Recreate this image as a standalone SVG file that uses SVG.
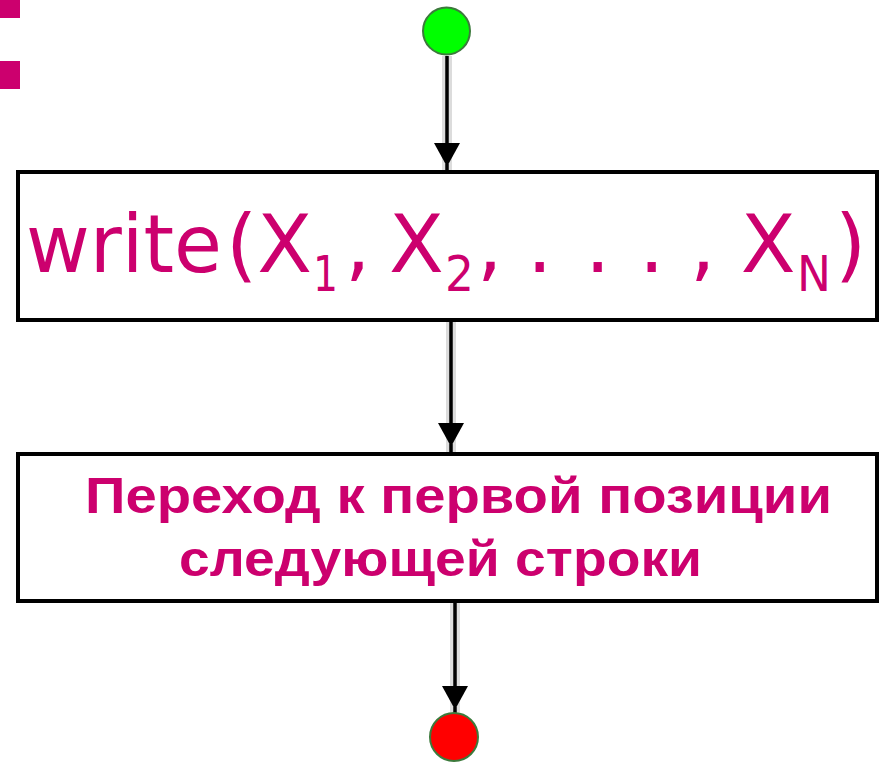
<svg xmlns="http://www.w3.org/2000/svg" width="885" height="762" viewBox="0 0 885 762">
<style>
.box{fill:#fff;stroke:#000;stroke-width:4}
.halo{fill:none;stroke:#dcdcdc;stroke-width:10}
.ln{fill:none;stroke:#000;stroke-width:3.5}
.mg{fill:#cc006e}
.t1{font-family:"DejaVu Sans",Verdana,sans-serif;font-size:80px;fill:#cc006e}
.sub{font-size:50px}
.t2{font-family:"Liberation Sans",Arial,sans-serif;font-weight:bold;font-size:50px;fill:#cc006e}
</style>
<defs>
<path id="ah" d="M-13,0 L13,0 L2,20 L-2,20 Z" fill="#000"/>
</defs>
<rect class="mg" x="0" y="0" width="20" height="18"/>
<rect class="mg" x="0" y="61" width="20" height="28"/>
<g id="connectors">
<line class="halo" x1="447" y1="56" x2="447" y2="170"/>
<line class="ln" x1="447" y1="56" x2="447" y2="172"/>
<use href="#ah" x="447" y="143"/>
<line class="halo" x1="451" y1="322" x2="451" y2="452"/>
<line class="ln" x1="451" y1="320" x2="451" y2="455"/>
<use href="#ah" x="451" y="423"/>
<line class="halo" x1="455" y1="603" x2="455" y2="712"/>
<line class="ln" x1="455" y1="601" x2="455" y2="713"/>
<use href="#ah" x="455" y="686"/>
</g>
<g id="start">
<circle cx="446.5" cy="31" r="23.5" fill="#00ff00" stroke="#3c7a3c" stroke-width="2"/>
</g>
<g id="write">
<rect class="box" x="18" y="172" width="859" height="148"/>
<text class="t1" y="272"><tspan x="26" y="272" textLength="196" lengthAdjust="spacingAndGlyphs">write</tspan><tspan x="226" y="272">(X</tspan><tspan class="sub" x="313" y="291" textLength="25" lengthAdjust="spacingAndGlyphs">1</tspan><tspan x="345" y="272">,</tspan><tspan x="389" y="272">X</tspan><tspan class="sub" x="445" y="291" textLength="29" lengthAdjust="spacingAndGlyphs">2</tspan><tspan x="477" y="272">,</tspan><tspan x="527" y="272">.</tspan><tspan x="585" y="272">.</tspan><tspan x="639" y="272">.</tspan><tspan x="690" y="272">, X</tspan><tspan class="sub" x="797" y="291" textLength="34" lengthAdjust="spacingAndGlyphs">N</tspan><tspan x="835" y="272">)</tspan></text>
</g>
<g id="newline">
<rect class="box" x="18" y="454" width="859" height="147"/>
<text class="t2" x="85" y="513" textLength="747" lengthAdjust="spacingAndGlyphs">Переход к первой позиции</text>
<text class="t2" x="179" y="576" textLength="523" lengthAdjust="spacingAndGlyphs">следующей строки</text>
</g>
<g id="end">
<circle cx="454" cy="737" r="24" fill="#ff0000" stroke="#3c7a3c" stroke-width="2"/>
</g>
</svg>
